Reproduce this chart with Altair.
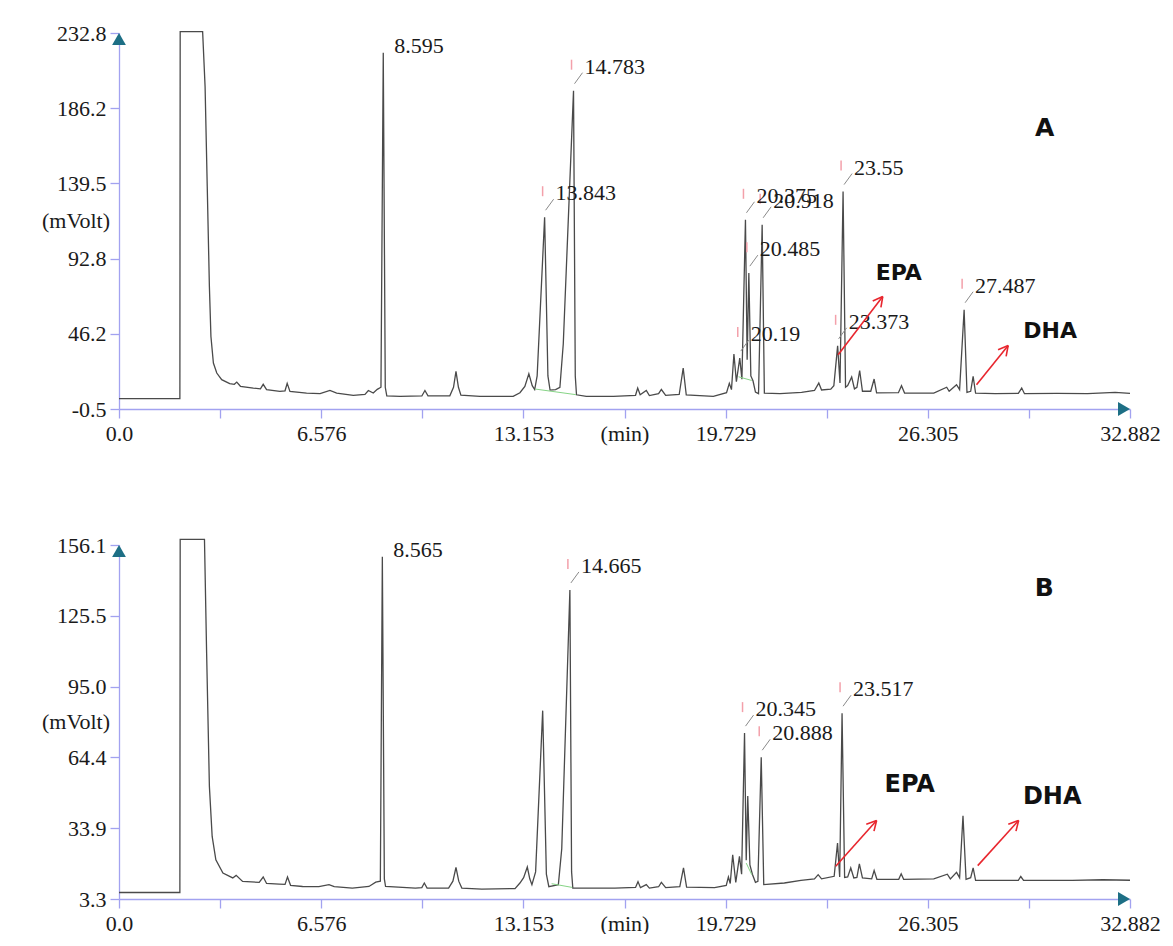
import math
import altair as alt
import pandas as pd

# ---------------- shared time axis ----------------
x_max = 32.882
x_step = 3.2882
x_tick_labels = ["0.0", "", "6.576", "", "13.153", "(min)", "19.729", "", "26.305", "", "32.882"]

# ---------------- panel A: trace (retention time in min, signal in mVolt) ----------------
a_time = [0, 1.98, 1.99, 2.72, 2.80, 2.87, 2.94, 2.99, 3.07, 3.18, 3.34, 3.60, 3.75, 3.83, 3.95,
          4.37, 4.60, 4.69, 4.80, 5.23, 5.40, 5.47, 5.56, 6.10, 6.54, 6.86, 7.08, 7.62, 8.00, 8.11,
          8.27, 8.40, 8.52, 8.595, 8.66, 8.71, 9.14, 9.85, 9.95, 10.05, 10.76, 10.88, 10.96, 11.04,
          11.12, 11.74, 12.82, 13.04, 13.20, 13.33, 13.44, 13.52, 13.60, 13.843, 13.95, 14.02,
          14.20, 14.34, 14.45, 14.783, 14.84, 14.88, 15.20, 16.08, 16.80, 16.87, 16.95, 17.15,
          17.25, 17.55, 17.64, 17.78, 18.22, 18.35, 18.45, 19.33, 19.76, 19.85, 19.92, 20.00,
          20.08, 20.19, 20.26, 20.375, 20.43, 20.485, 20.55, 20.62, 20.70, 20.80, 20.918, 20.99,
          21.50, 22.20, 22.62, 22.76, 22.85, 23.15, 23.25, 23.373, 23.45, 23.55, 23.63, 23.70,
          23.83, 23.92, 24.00, 24.09, 24.18, 24.45, 24.56, 24.64, 25.35, 25.45, 25.55, 26.50,
          26.92, 27.00, 27.24, 27.34, 27.487, 27.58, 27.70, 27.78, 27.86, 28.50, 29.25, 29.36,
          29.45, 30.50, 31.50, 32.40, 32.882]
a_mv = [5.9, 5.9, 233.6, 233.6, 199.5, 137.5, 75.5, 44.5, 28.0, 21.8, 17.7, 15.2, 14.8, 16.2, 13.6,
        12.5, 12.0, 14.8, 11.5, 10.4, 10.8, 15.4, 10.4, 9.4, 9.0, 11.0, 9.4, 7.9, 8.6, 11.0,
        9.4, 11.7, 13.0, 220.5, 13.0, 7.7, 7.3, 7.6, 11.0, 7.7, 7.7, 13.0, 22.8, 13.0,
        8.1, 7.3, 7.3, 9.6, 13.5, 21.4, 14.0, 11.6, 20.0, 118.5, 20.0, 11.2,
        11.5, 13.0, 40.0, 197.0, 20.0, 8.3, 7.3, 7.3, 8.0, 12.5, 8.3, 11.0,
        7.8, 9.0, 11.6, 8.0, 8.5, 24.9, 8.2, 7.3, 9.6, 15.4, 11.5, 33.6,
        16.5, 31.1, 18.0, 116.9, 30.0, 83.8, 20.0, 17.0, 10.0, 9.0, 113.8, 9.4,
        9.0, 9.8, 11.0, 15.6, 11.3, 11.8, 14.0, 38.7, 15.6, 134.4, 13.0, 14.0,
        19.3, 12.0, 13.0, 23.4, 10.5, 10.5, 18.1, 9.5, 9.6, 14.0, 9.4, 9.4,
        13.0, 10.5, 14.6, 11.5, 61.1, 9.8, 10.5, 19.7, 9.4, 9.0, 9.2, 12.5,
        9.0, 9.2, 9.0, 9.8, 9.2]
a_peak_time = [8.595, 13.843, 14.783, 20.19, 20.375, 20.485, 20.918, 23.373, 23.55, 27.487]
a_peak_mv = [220.5, 118.5, 197.0, 31.1, 116.9, 83.8, 113.8, 38.7, 134.4, 61.1]
a_peak_label = ["8.595", "13.843", "14.783", "20.19", "20.375", "20.485", "20.918", "23.373", "23.55", "27.487"]
# integration baselines (start time, start mV, end time, end mV)
a_base = [(13.53, 11.9, 14.86, 8.4), (20.15, 19.5, 20.58, 17.2)]
a_y_ticks = [-0.5, 46.16, 92.82, 139.48, 186.14, 232.8]
a_y_labels = ["-0.5", "46.2", "92.8", "139.5", "186.2", "232.8"]
a_note_text = ["EPA", "DHA"]
a_note_time = [24.61, 29.41]
a_note_mv = [83.8, 47.6]
a_arrow = [(23.39, 33.2, 24.84, 69.3), (27.89, 14.6, 28.92, 38.9)]
a_letter = ("A", 30.11, 173.7)

# ---------------- panel B ----------------
b_time = [0, 1.98, 1.99, 2.78, 2.85, 2.94, 3.03, 3.15, 3.38, 3.70, 3.81, 4.02, 4.56, 4.69, 4.80,
          5.21, 5.40, 5.48, 5.58, 5.97, 6.50, 6.83, 7.00, 7.59, 8.13, 8.35, 8.50, 8.565, 8.63,
          8.67, 9.64, 9.85, 9.93, 10.02, 10.72, 10.86, 10.96, 11.05, 11.15, 11.80, 12.88, 13.04,
          13.16, 13.28, 13.36, 13.43, 13.55, 13.78, 13.90, 13.98, 14.29, 14.40, 14.665, 14.72,
          14.76, 15.30, 16.13, 16.80, 16.88, 16.96, 17.15, 17.25, 17.55, 17.64, 17.78, 18.24,
          18.36, 18.46, 19.37, 19.75, 19.82, 19.88, 19.96, 20.06, 20.18, 20.25, 20.345, 20.40,
          20.45, 20.52, 20.60, 20.70, 20.78, 20.888, 20.97, 21.64, 22.18, 22.62, 22.74, 22.85,
          23.26, 23.37, 23.44, 23.517, 23.60, 23.70, 23.80, 23.90, 24.00, 24.08, 24.18, 24.48,
          24.56, 24.65, 25.36, 25.44, 25.52, 26.50, 26.94, 27.04, 27.24, 27.34, 27.45, 27.55,
          27.70, 27.78, 27.86, 28.66, 29.25, 29.33, 29.42, 31.00, 32.00, 32.882]
b_mv = [6.1, 6.1, 158.5, 158.5, 109.4, 51.9, 30.3, 20.2, 14.5, 12.4, 13.5, 10.9, 10.5, 12.8, 10.0,
        9.7, 9.6, 12.8, 9.2, 8.7, 8.6, 9.5, 8.6, 8.0, 8.7, 10.6, 11.0, 151.0, 12.0,
        8.7, 8.0, 8.2, 10.2, 8.0, 8.0, 11.0, 16.9, 11.0, 8.0, 7.6, 7.8, 10.2,
        12.5, 17.1, 12.0, 9.5, 15.0, 84.6, 14.0, 8.6, 9.5, 25.0, 136.7, 15.0,
        8.0, 8.0, 8.0, 8.3, 10.8, 8.2, 9.5, 8.0, 8.6, 10.5, 8.2, 8.6,
        16.7, 8.4, 8.2, 9.2, 12.8, 10.0, 22.4, 10.5, 21.7, 14.0, 74.9, 20.0,
        47.8, 18.0, 14.0, 10.5, 10.9, 64.5, 9.5, 10.2, 11.3, 12.0, 13.8, 12.0,
        13.1, 27.4, 12.8, 83.5, 12.6, 12.8, 16.7, 12.4, 12.6, 18.5, 12.4, 12.0,
        15.6, 11.8, 11.8, 14.2, 11.8, 12.0, 14.0, 12.0, 14.8, 12.5, 39.2, 11.8,
        12.5, 16.7, 11.3, 11.3, 11.3, 13.0, 11.3, 11.3, 11.6, 11.4]
b_peak_time = [8.565, 14.665, 20.345, 20.888, 23.517]
b_peak_mv = [151.0, 136.7, 74.9, 64.5, 83.5]
b_peak_label = ["8.565", "14.665", "20.345", "20.888", "23.517"]
b_base = [(14.07, 9.9, 14.74, 8.3), (20.40, 18.8, 20.58, 13.8)]
b_y_ticks = [3.3, 33.86, 64.42, 94.98, 125.54, 156.1]
b_y_labels = ["3.3", "33.9", "64.4", "95.0", "125.5", "156.1"]
b_note_text = ["EPA", "DHA"]
b_note_time = [24.90, 29.40]
b_note_mv = [52.6, 47.5]
b_arrow = [(23.31, 17.4, 24.64, 37.2), (27.93, 17.7, 29.26, 37.2)]
b_letter = ("B", 30.09, 137.4)

# ---------------- styling ----------------
PLOT_W = 1011
AXIS_BLUE = "#a2a2f0"
ARROW_TEAL = "#1d6f85"
TRACE = "#4a4a4a"
SERIF = "Liberation Serif"
SANS = "DejaVu Sans"


def panel(times, mvs, pk_t, pk_v, pk_lbl, bases, y_ticks, y_labels, notes, arrows, letter,
          height, note_size, anchor=False):
    y_min, y_max = y_ticks[0], y_ticks[-1]
    kx = PLOT_W / x_max
    ky = height / (y_max - y_min)
    xs = alt.Scale(domain=[0, x_max], nice=False, zero=False)
    ys = alt.Scale(domain=[y_min, y_max], nice=False, zero=False)
    y_step = (y_max - y_min) / (len(y_ticks) - 1)

    x_label_expr = "[" + ",".join("'%s'" % s for s in x_tick_labels) + "][round(datum.value/%s)]" % x_step
    y_label_expr = "[" + ",".join("'%s'" % s for s in y_labels) + "][round((datum.value-(%s))/%s)]" % (y_min, y_step)

    def X(field):
        return alt.X(field, scale=xs)

    def Y(field):
        return alt.Y(field, scale=ys)

    trace_df = pd.DataFrame({"t": times, "v": mvs, "i": list(range(len(times)))})
    trace = alt.Chart(trace_df).mark_line(color=TRACE, strokeWidth=1.3, interpolate="linear").encode(
        x=alt.X("t:Q", scale=xs, axis=alt.Axis(
            values=[round(x_step * k, 4) for k in range(11)], labelExpr=x_label_expr, title=None,
            grid=False, tickSize=9, labelPadding=5, labelOverlap=False, labelFlush=False)),
        y=alt.Y("v:Q", scale=ys, axis=alt.Axis(
            values=y_ticks, labelExpr=y_label_expr, title=None, grid=False, tickSize=9,
            labelPadding=4, labelOverlap=False, labelFlush=False)),
        order=alt.Order("i:Q"),
    )

    layers = [trace]

    base_df = pd.DataFrame(bases, columns=["t", "v", "t2", "v2"])
    layers.append(alt.Chart(base_df).mark_rule(color="#86d486", strokeWidth=1).encode(
        x=X("t:Q"), y=Y("v:Q"), x2="t2:Q", y2="v2:Q"))

    # peak labels: placed above the apex unless the apex is close to the top edge
    rows = []
    for t, v, s in zip(pk_t, pk_v, pk_lbl):
        apex_py = (y_max - v) * ky
        near_top = apex_py - 24 < 12
        lab_py = apex_py - 7 if near_top else apex_py - 24
        rows.append({"t": t, "v": v, "label": s, "lv": y_max - lab_py / ky, "lead": 0 if near_top else 1})
    pk_df = pd.DataFrame(rows)

    layers.append(alt.Chart(pk_df).mark_rule(color="#f3a0aa", strokeWidth=1.5, clip=True,
                                              xOffset=-2, x2Offset=-2, yOffset=-31, y2Offset=-21).encode(
        x=X("t:Q"), x2="t:Q", y=Y("v:Q"), y2="v:Q"))
    layers.append(alt.Chart(pk_df).transform_filter("datum.lead == 1").mark_rule(
        color="#8a8a8a", strokeWidth=1, xOffset=1, x2Offset=9, yOffset=-7, y2Offset=-18).encode(
        x=X("t:Q"), x2="t:Q", y=Y("v:Q"), y2="v:Q"))
    layers.append(alt.Chart(pk_df).mark_text(font=SERIF, fontSize=22, color="#1a1a1a", align="left",
                                              baseline="middle", dx=11).encode(
        x=X("t:Q"), y=Y("lv:Q"), text="label:N"))

    # red arrows pointing at EPA / DHA
    seg = []
    for t1, v1, t2, v2 in arrows:
        seg.append({"t": t1, "v": v1, "t2": t2, "v2": v2})
        dxp, dyp = (t2 - t1) * kx, (v2 - v1) * ky
        ang = math.atan2(dyp, dxp)
        for side in (-1, 1):
            a = ang + math.pi - side * math.radians(28)
            seg.append({"t": t2, "v": v2, "t2": t2 + 11 * math.cos(a) / kx, "v2": v2 + 11 * math.sin(a) / ky})
    arrow_df = pd.DataFrame(seg)
    layers.append(alt.Chart(arrow_df).mark_rule(color="#e8262e", strokeWidth=1.6).encode(
        x=X("t:Q"), y=Y("v:Q"), x2="t2:Q", y2="v2:Q"))

    note_df = pd.DataFrame({"t": notes[1], "v": notes[2], "label": notes[0]})
    layers.append(alt.Chart(note_df).mark_text(font=SANS, fontWeight="bold", fontSize=note_size,
                                                color="#111", align="left", baseline="middle").encode(
        x=X("t:Q"), y=Y("v:Q"), text="label:N"))

    letter_df = pd.DataFrame({"t": [letter[1]], "v": [letter[2]], "label": [letter[0]]})
    layers.append(alt.Chart(letter_df).mark_text(font=SANS, fontWeight="bold", fontSize=25,
                                                  color="#111", align="center", baseline="middle").encode(
        x=X("t:Q"), y=Y("v:Q"), text="label:N"))

    # axis unit for the signal, placed between two tick labels
    unit_df = pd.DataFrame({"v": [(y_min + y_max) / 2], "label": ["(mVolt)"]})
    layers.append(alt.Chart(unit_df).mark_text(font=SERIF, fontSize=22, color="#1a1a1a", align="right",
                                                baseline="middle").encode(
        x=alt.value(-9), y=Y("v:Q"), text="label:N"))

    # arrow heads at the ends of both axes
    ends = pd.DataFrame({"t": [0.0], "v": [y_max], "t2": [x_max], "v2": [y_min]})
    layers.append(alt.Chart(ends).mark_point(shape="triangle-up", filled=True, size=190, opacity=1,
                                              color=ARROW_TEAL, yOffset=6).encode(
        x=X("t:Q"), y=Y("v:Q")))
    layers.append(alt.Chart(ends).mark_point(shape="triangle-right", filled=True, size=190, opacity=1,
                                              color=ARROW_TEAL, xOffset=-6).encode(
        x=X("t2:Q"), y=Y("v2:Q")))

    if anchor:
        # fixes the page offset of the plot area
        layers.append(alt.Chart(ends).mark_rule(strokeOpacity=0, strokeWidth=1).encode(
            x=alt.value(-118.5), x2=alt.value(-117.5), y=alt.value(-32.5), y2=alt.value(-32.5)))

    return alt.layer(*layers).properties(width=PLOT_W, height=height)


chart_a = panel(a_time, a_mv, a_peak_time, a_peak_mv, a_peak_label, a_base, a_y_ticks, a_y_labels,
                (a_note_text, a_note_time, a_note_mv), a_arrow, a_letter, 376, 22, anchor=True)
chart_b = panel(b_time, b_mv, b_peak_time, b_peak_mv, b_peak_label, b_base, b_y_ticks, b_y_labels,
                (b_note_text, b_note_time, b_note_mv), b_arrow, b_letter, 354, 24)

chart = alt.vconcat(chart_a, chart_b, spacing=136, bounds="flush").properties(
    padding=0, background="white"
).configure_view(stroke=None).configure_axis(
    domainColor=AXIS_BLUE, tickColor=AXIS_BLUE, domainWidth=1.3, tickWidth=1.3,
    labelFont=SERIF, labelFontSize=22, labelColor="#1a1a1a",
)

chart.save("out.html", embed_options={"renderer": "svg", "actions": False})
